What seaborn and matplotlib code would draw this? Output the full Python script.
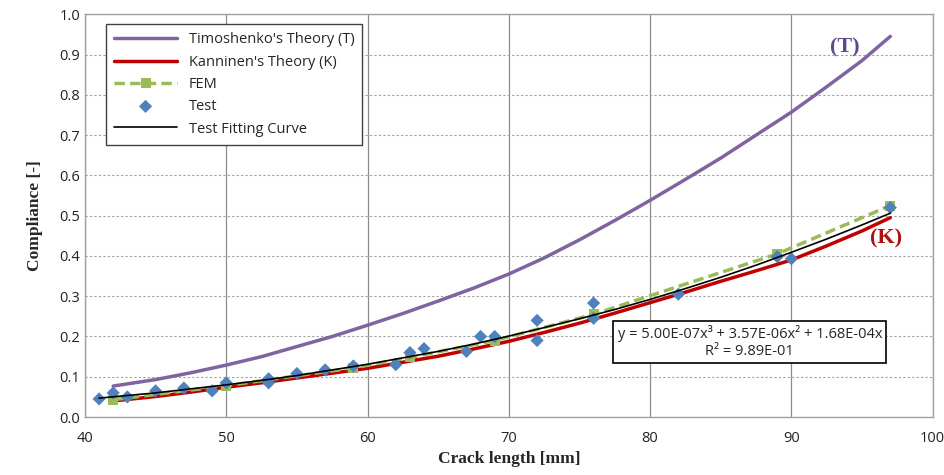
import numpy as np
import pandas as pd
import matplotlib
matplotlib.use("Agg")
import matplotlib.pyplot as plt
from matplotlib.ticker import MultipleLocator, FormatStrFormatter
import seaborn as sns

# %%
# Data
crack_theory = [42, 45, 47.5, 50, 52.5, 55, 57.5, 60, 62.5, 65, 67.5, 70, 72.5, 75,
                77.5, 80, 82.5, 85, 87.5, 90, 92.5, 95, 97]
timoshenko = [0.077, 0.093, 0.11, 0.129, 0.15, 0.175, 0.2, 0.228, 0.257, 0.288, 0.32,
              0.355, 0.395, 0.44, 0.488, 0.538, 0.59, 0.643, 0.7, 0.757, 0.82, 0.885, 0.945]
kanninen = [0.04, 0.051, 0.062, 0.074, 0.085, 0.097, 0.109, 0.121, 0.136, 0.151, 0.169,
            0.188, 0.21, 0.233, 0.258, 0.284, 0.31, 0.337, 0.363, 0.39, 0.425, 0.462, 0.495]

crack_fem = [42, 50, 59, 63, 69, 76, 89, 97]
fem = [0.043, 0.078, 0.122, 0.148, 0.19, 0.255, 0.405, 0.525]

crack_test = [41, 42, 43, 45, 47, 49, 50, 53, 53, 55, 57, 59, 62, 63, 64, 67, 68, 69,
              72, 72, 76, 76, 82, 89, 90, 97]
test = [0.045, 0.06, 0.05, 0.065, 0.072, 0.065, 0.085, 0.095, 0.085, 0.108, 0.117, 0.127,
        0.13, 0.16, 0.17, 0.163, 0.2, 0.2, 0.24, 0.19, 0.283, 0.245, 0.305, 0.398, 0.393, 0.52]

crack_fit = [41, 45, 47.5, 50, 52.5, 55, 57.5, 60, 62.5, 65, 67.5, 70, 72.5, 75, 77.5,
             80, 82.5, 85, 87.5, 90, 92.5, 95, 97]
fit = [0.047, 0.060, 0.070, 0.080, 0.091, 0.103, 0.117, 0.131, 0.147, 0.163, 0.181,
       0.201, 0.222, 0.244, 0.267, 0.292, 0.319, 0.347, 0.377, 0.409, 0.442, 0.477, 0.506]

# %%
sns.set_theme(style="white")
plt.rcParams["font.family"] = ["Open Sans", "DejaVu Sans"]

fig = plt.figure(figsize=(9.44, 4.75), dpi=100)
ax = fig.add_axes([0.090, 0.122, 0.898, 0.848])

sns.lineplot(x=crack_theory, y=timoshenko, ax=ax, color="#8064a2", lw=2.5,
             label="Timoshenko's Theory (T)")
sns.lineplot(x=crack_theory, y=kanninen, ax=ax, color="#c00000", lw=2.5,
             label="Kanninen's Theory (K)")
sns.lineplot(x=crack_fem, y=fem, ax=ax, color="#9bbb59", lw=2.5, dashes=(3, 1.5),
             marker="s", markersize=7, markeredgewidth=0, label="FEM")
sns.scatterplot(x=crack_test, y=test, ax=ax, color="#4f81bd", marker="D", s=45,
                edgecolor="none", label="Test", zorder=5)
sns.lineplot(x=crack_fit, y=fit, ax=ax, color="black", lw=1.2,
             label="Test Fitting Curve", zorder=6)

ax.set_xlim(40, 100)
ax.set_ylim(0, 1.0)
ax.xaxis.set_major_locator(MultipleLocator(10))
ax.xaxis.set_minor_locator(MultipleLocator(2))
ax.yaxis.set_major_locator(MultipleLocator(0.1))
ax.yaxis.set_minor_locator(MultipleLocator(0.02))
ax.yaxis.set_major_formatter(FormatStrFormatter("%.1f"))
ax.tick_params(which="both", direction="in", color="#808080", labelsize=10.5,
               labelcolor="#222222")
ax.tick_params(which="major", length=6)
ax.tick_params(which="minor", length=5)
ax.tick_params(axis="x", pad=10)

ax.grid(axis="x", which="major", color="#8c8c8c", lw=0.9, ls="-")
ax.grid(axis="y", which="major", color="#a0a0a0", lw=0.8, ls=(0, (2, 2)))
for s in ax.spines.values():
    s.set_color("#a0a0a0")
    s.set_linewidth(1)

ax.set_xlabel("Crack length [mm]", family="Liberation Serif", fontweight="bold",
              fontsize=12.5, labelpad=4)
ax.set_ylabel("Compliance [-]", family="Liberation Serif", fontweight="bold",
              fontsize=12.5, labelpad=12)

leg = ax.legend(loc="upper left", bbox_to_anchor=(0.025, 0.975), borderaxespad=0,
                fontsize=10.5, frameon=True, fancybox=False, edgecolor="#404040",
                framealpha=1, handlelength=4.3, labelspacing=0.5, borderpad=0.55)
leg.get_frame().set_linewidth(1)

ax.text(93.8, 0.918, "(T)", family="Liberation Serif", fontweight="bold",
        fontsize=16, color="#5f4a8b", ha="center", va="center")
ax.text(96.7, 0.444, "(K)", family="Liberation Serif", fontweight="bold",
        fontsize=16, color="#b01010", ha="center", va="center")

ax.text(87.06, 0.186, "y = 5.00E-07x³ + 3.57E-06x² + 1.68E-04x\nR² = 9.89E-01",
        ha="center", va="center", fontsize=10.5, linespacing=1.15,
        bbox=dict(boxstyle="square,pad=0.3", fc="white", ec="black", lw=1.2),
        zorder=7)

fig.savefig("out.png", dpi=100)
